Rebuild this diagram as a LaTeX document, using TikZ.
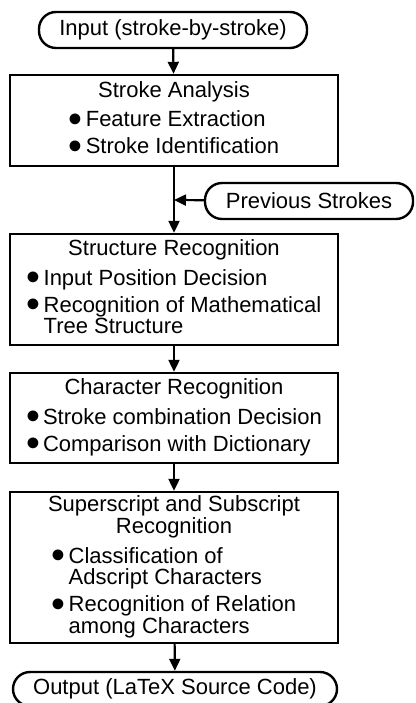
\documentclass[tikz,border=0pt]{standalone}
\usepackage{fontspec}
\setmainfont{Liberation Sans}
\usetikzlibrary{arrows.meta,positioning}
\definecolor{FlowInk}{RGB}{0,0,0}
\newcommand{\bul}{\smash{\raisebox{-5.5pt}{\scalebox{1.8}{\textbullet}}}}
\tikzset{
  procbox/.style={draw=FlowInk,line width=2.4pt,minimum width=328pt,inner sep=0pt},
  termbox/.style={draw=FlowInk,line width=2.4pt,rounded corners=17pt,
    inner sep=0pt,minimum height=36pt},
  flow/.style={->,draw=FlowInk,line width=2.2pt}
}

\begin{document}
\begin{tikzpicture}[x=1pt,y=-1pt,>={Triangle[length=12pt,width=11pt]},
    font=\fontsize{22}{20}\selectfont]
  \useasboundingbox (0,0) rectangle (415,703);
  % terminals
  \node[termbox,minimum width=268pt] (input) at (173,30) {Input (stroke-by-stroke)};
  \node[termbox,minimum width=208pt] (prev) at (309,201) {Previous Strokes};
  \node[termbox,minimum width=324pt,minimum height=34pt] (output) at (175,689)
    {Output (LaTeX Source Code)};
  % processing steps
  \node[procbox,minimum height=91pt] (analysis) at (174,120.5) {%
    \begin{tabular}{@{}c@{}}
      Stroke Analysis\\[8pt]
      \begin{tabular}[t]{@{}l@{\hspace{3pt}}l@{}}
        \bul & Feature Extraction\\[5pt]
        \bul & Stroke Identification
      \end{tabular}
    \end{tabular}};
  \node[procbox,minimum height=111pt] (structure) at (174,289.5) {%
    \begin{tabular}{@{}c@{}}
      Structure Recognition\\[8pt]
      \begin{tabular}[t]{@{}l@{\hspace{3pt}}l@{}}
        \bul & Input Position Decision\\[5pt]
        \bul & Recognition of Mathematical\\
             & Tree Structure
      \end{tabular}
    \end{tabular}};
  \node[procbox,minimum height=90pt] (character) at (174,418) {%
    \begin{tabular}{@{}c@{}}
      Character Recognition\\[8pt]
      \begin{tabular}[t]{@{}l@{\hspace{3pt}}l@{}}
        \bul & Stroke combination Decision\\[5pt]
        \bul & Comparison with Dictionary
      \end{tabular}
    \end{tabular}};
  \node[procbox,minimum height=151pt] (adscript) at (174,567.5) {%
    \begin{tabular}{@{}c@{}}
      Superscript and Subscript\\
      Recognition\\[8pt]
      \begin{tabular}[t]{@{}l@{\hspace{3pt}}l@{}}
        \bul & Classification of\\
             & Adscript Characters\\[5pt]
        \bul & Recognition of Relation\\
             & among Characters
      \end{tabular}
    \end{tabular}};
  % connectors
  \coordinate (merge) at (174,200);
  \draw[flow] (input) -- (analysis);
  \draw[flow] (analysis) -- (merge) -- (structure);
  \draw[flow] (prev) -- (merge);
  \draw[flow] (structure) -- (character);
  \draw[flow] (character) -- (adscript);
  \draw[flow] (adscript) -- (output);
\end{tikzpicture}
\end{document}
